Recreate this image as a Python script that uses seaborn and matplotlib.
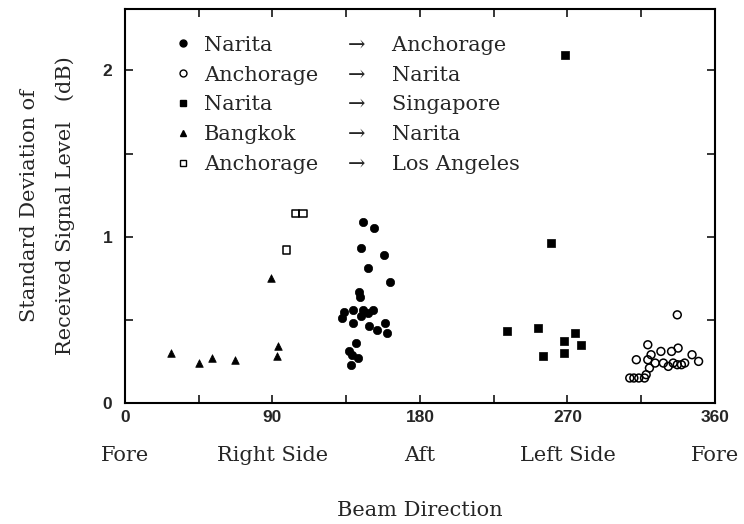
import pandas as pd
import matplotlib
matplotlib.use("Agg")
import matplotlib.pyplot as plt
from matplotlib.lines import Line2D
from matplotlib.ticker import MultipleLocator
import seaborn as sns

# --- valores: direcao do feixe (graus) e desvio padrao (dB) ---
nrt_anc_dir = [145, 152, 144, 158, 148, 162, 143, 143.5, 133.5, 139, 145.5, 151.5,
               132.5, 144, 148, 139, 149, 153.5, 158.5, 160, 141, 136.5, 142, 138, 138.5]
nrt_anc_sd = [1.09, 1.05, 0.93, 0.89, 0.81, 0.73, 0.67, 0.64, 0.55, 0.56, 0.56, 0.56,
              0.51, 0.52, 0.54, 0.48, 0.46, 0.44, 0.48, 0.42, 0.36, 0.31, 0.27, 0.23, 0.29]

anc_nrt_dir = [337, 319, 327, 333.5, 337.5, 312, 319, 321, 346, 350, 323.5, 328.5,
               331.5, 334.5, 337, 339.5, 341.5, 320, 318, 317, 313.5, 310.5, 308]
anc_nrt_sd = [0.53, 0.35, 0.31, 0.31, 0.33, 0.26, 0.26, 0.29, 0.29, 0.25, 0.24, 0.24,
              0.22, 0.24, 0.23, 0.23, 0.24, 0.21, 0.17, 0.15, 0.15, 0.15, 0.15]

nrt_sin_dir = [268.5, 260, 233, 252, 255, 268, 268, 274.5, 278]
nrt_sin_sd = [2.09, 0.96, 0.43, 0.45, 0.28, 0.37, 0.30, 0.42, 0.35]

bkk_nrt_dir = [28, 45, 53, 67, 89, 93.5, 93]
bkk_nrt_sd = [0.30, 0.24, 0.27, 0.26, 0.75, 0.34, 0.28]

anc_lax_dir = [98.5, 104, 108.5]
anc_lax_sd = [0.92, 1.14, 1.14]

origens = ["Narita", "Anchorage", "Narita", "Bangkok", "Anchorage"]
destinos = ["Anchorage", "Narita", "Singapore", "Narita", "Los Angeles"]

x_ticks = [0, 90, 180, 270, 360]
x_lados = ["Fore", "Right Side", "Aft", "Left Side", "Fore"]
y_ticks = [0, 1, 2]

# --- monta o DataFrame ---
rotas = [
    ("nrt_anc", nrt_anc_dir, nrt_anc_sd),
    ("anc_nrt", anc_nrt_dir, anc_nrt_sd),
    ("nrt_sin", nrt_sin_dir, nrt_sin_sd),
    ("bkk_nrt", bkk_nrt_dir, bkk_nrt_sd),
    ("anc_lax", anc_lax_dir, anc_lax_sd),
]
df = pd.concat([pd.DataFrame({"rota": r, "direcao": d, "desvio": s}) for r, d, s in rotas],
               ignore_index=True)

# estilo de cada rota: (marcador, preenchido, tamanho)
estilos = {
    "nrt_anc": ("o", True, 36),
    "anc_nrt": ("o", False, 32),
    "nrt_sin": ("s", True, 26),
    "bkk_nrt": ("^", True, 30),
    "anc_lax": ("s", False, 30),
}

sns.set_style("ticks")
plt.rcParams["font.family"] = ["DejaVu Serif", "DejaVu Sans"]

fig = plt.figure(figsize=(7.44, 5.24), dpi=100)
ax = fig.add_axes([0.168, 0.231, 0.793, 0.752])

for rota, grupo in df.groupby("rota", sort=False):
    marcador, cheio, tam = estilos[rota]
    sns.scatterplot(
        data=grupo, x="direcao", y="desvio", ax=ax,
        marker=marcador, s=tam, color="black",
        facecolors="black" if cheio else "none",
        edgecolor="black", linewidth=1.1 if not cheio else 0.5,
        legend=False,
    )

ax.set_xlim(0, 360)
ax.set_ylim(0, 2.37)
ax.set_xticks(x_ticks)
ax.set_yticks(y_ticks)
ax.xaxis.set_minor_locator(MultipleLocator(45))
ax.yaxis.set_minor_locator(MultipleLocator(0.5))
ax.tick_params(which="both", direction="in", top=True, right=True, length=6, width=1.3)
ax.tick_params(axis="x", pad=5)
ax.tick_params(axis="y", pad=9)
for lab in ax.get_xticklabels() + ax.get_yticklabels():
    lab.set_fontfamily("Liberation Sans")
    lab.set_fontweight("bold")
    lab.set_fontsize(12.5)
for sp in ax.spines.values():
    sp.set_linewidth(1.5)
    sp.set_color("black")

# rotulos dos lados do aviao abaixo dos numeros
sec = ax.secondary_xaxis("bottom")
sec.set_xticks(x_ticks, labels=x_lados)
sec.tick_params(length=0, pad=31, labelsize=15)
for sp in sec.spines.values():
    sp.set_visible(False)

ax.set_xlabel("Beam Direction", fontsize=15)
ax.xaxis.set_label_coords(0.5, -0.25)
ax.set_ylabel("Standard Deviation of\nReceived Signal Level   (dB)", fontsize=15, linespacing=2.0)
ax.yaxis.set_label_coords(-0.085, 0.5)

# legenda: marcador + origem, depois seta + destino
marcas = []
for rota, _, _ in rotas:
    marcador, cheio, tam = estilos[rota]
    marcas.append(Line2D([], [], ls="none", marker=marcador, markersize=5,
                         markerfacecolor="black" if cheio else "white",
                         markeredgecolor="black", markeredgewidth=1.0))
vazios = [Line2D([], [], ls="none") for _ in destinos]
rotulos = origens + ["\u2192    " + d for d in destinos]
ax.legend(handles=marcas + vazios, labels=rotulos, ncol=2, loc="upper left",
          bbox_to_anchor=(0.085, 0.932), frameon=False, handlelength=0.8,
          handletextpad=0.6, columnspacing=0.0, labelspacing=0.52,
          borderpad=0, borderaxespad=0, fontsize=15)

fig.savefig("out.png", dpi=100)
